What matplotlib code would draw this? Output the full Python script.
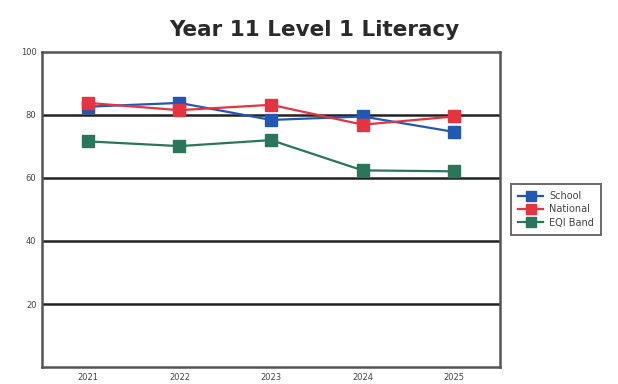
import matplotlib
matplotlib.use("Agg")
import matplotlib.pyplot as plt

years = ["2021", "2022", "2023", "2024", "2025"]
school = [82.6, 83.8, 78.4, 79.5, 74.6]
national = [83.8, 81.5, 83.2, 76.9, 79.5]
eqi_band = [71.6, 70.1, 72.0, 62.4, 62.1]
yticks = [20, 40, 60, 80, 100]

fig = plt.figure(figsize=(6.18, 3.84), dpi=100)
ax = fig.add_axes([0.068, 0.044, 0.741, 0.821])

x = list(range(len(years)))
ax.set_xlim(-0.5, len(years) - 0.5)
ax.set_ylim(0, 100)
for v in [20, 40, 60, 80]:
    ax.axhline(v, color="#222222", lw=1.8, zorder=1)

ms = 9
ax.plot(x, school, color="#2158b5", marker="s", ms=ms, lw=1.6, label="School", zorder=3)
ax.plot(x, national, color="#e5343f", marker="s", ms=ms, lw=1.6, label="National", zorder=4)
ax.plot(x, eqi_band, color="#2a765a", marker="s", ms=ms, lw=1.6, label="EQI Band", zorder=3)

ax.set_xticks(x)
ax.set_xticklabels(years)
ax.set_yticks(yticks)
ax.tick_params(axis="both", length=0, labelsize=6, colors="#444444", pad=4)
for s in ax.spines.values():
    s.set_color("#555555")
    s.set_linewidth(1.8)

fig.suptitle("Year 11 Level 1 Literacy", x=0.508, y=0.948, fontsize=15.5, fontweight="bold", color="#2a2a2a")

leg = ax.legend(loc="center left", bbox_to_anchor=(1.025, 0.50), fontsize=7, frameon=True,
                fancybox=False, edgecolor="#444444", handlelength=2.6, borderpad=0.7,
                labelspacing=0.35, markerscale=0.75, handletextpad=0.6, borderaxespad=0)
leg.get_frame().set_linewidth(1.4)
for t in leg.get_texts():
    t.set_color("#444444")

fig.savefig("out.png", dpi=100)
